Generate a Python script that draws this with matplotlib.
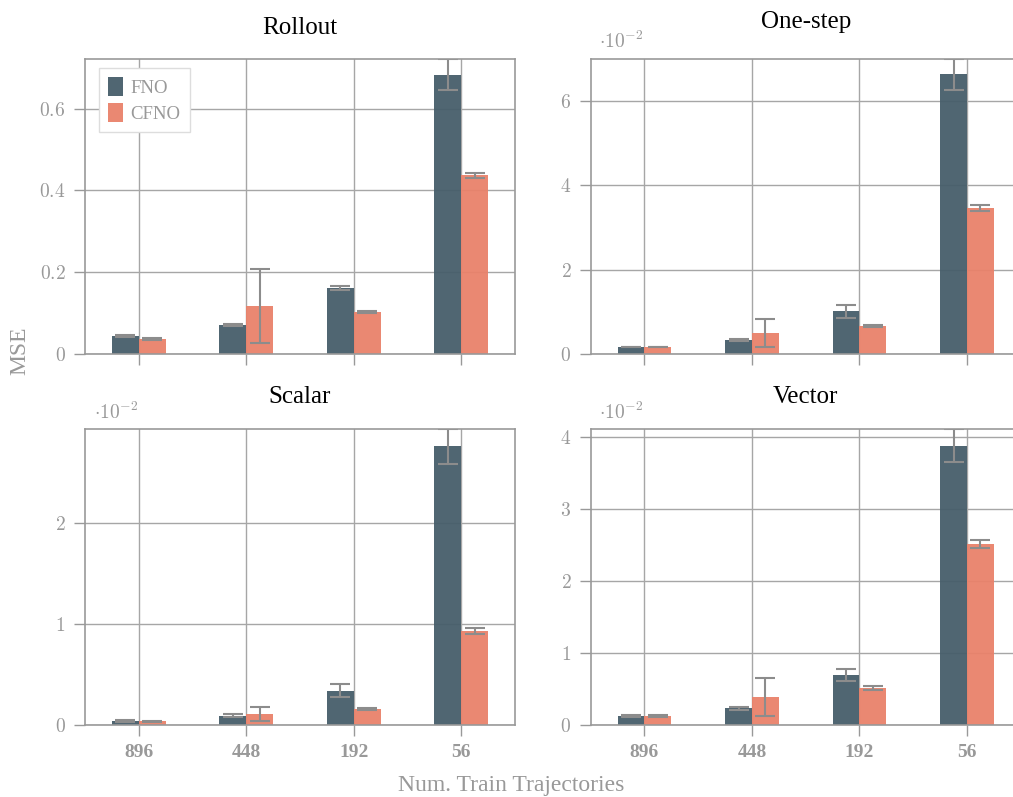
import matplotlib.pyplot as plt
from matplotlib.ticker import MultipleLocator, FuncFormatter
import numpy as np

plt.rcParams['mathtext.fontset'] = 'cm'
plt.rcParams['font.family'] = ['Liberation Serif', 'DejaVu Serif']

# data (MSE)
train_sizes = ['896', '448', '192', '56']
models = ['FNO', 'CFNO']
titles = ['Rollout', 'One-step', 'Scalar', 'Vector']

rollout_fno = [0.044, 0.071, 0.161, 0.683]
rollout_fno_err = [0.002, 0.003, 0.005, 0.038]
rollout_cfno = [0.037, 0.117, 0.102, 0.437]
rollout_cfno_err = [0.002, 0.091, 0.003, 0.006]

onestep_fno = [0.16e-2, 0.325e-2, 1.01e-2, 6.64e-2]
onestep_fno_err = [0.01e-2, 0.03e-2, 0.15e-2, 0.37e-2]
onestep_cfno = [0.16e-2, 0.49e-2, 0.66e-2, 3.46e-2]
onestep_cfno_err = [0.01e-2, 0.33e-2, 0.03e-2, 0.08e-2]

scalar_fno = [0.037e-2, 0.087e-2, 0.335e-2, 2.76e-2]
scalar_fno_err = [0.01e-2, 0.015e-2, 0.065e-2, 0.17e-2]
scalar_cfno = [0.033e-2, 0.106e-2, 0.156e-2, 0.93e-2]
scalar_cfno_err = [0.005e-2, 0.065e-2, 0.01e-2, 0.033e-2]

vector_fno = [0.12e-2, 0.228e-2, 0.69e-2, 3.88e-2]
vector_fno_err = [0.01e-2, 0.02e-2, 0.085e-2, 0.23e-2]
vector_cfno = [0.12e-2, 0.385e-2, 0.51e-2, 2.515e-2]
vector_cfno_err = [0.01e-2, 0.27e-2, 0.03e-2, 0.055e-2]

panels = [
    (rollout_fno, rollout_fno_err, rollout_cfno, rollout_cfno_err, 1, 0.2),
    (onestep_fno, onestep_fno_err, onestep_cfno, onestep_cfno_err, 1e-2, 2e-2),
    (scalar_fno, scalar_fno_err, scalar_cfno, scalar_cfno_err, 1e-2, 1e-2),
    (vector_fno, vector_fno_err, vector_cfno, vector_cfno_err, 1e-2, 1e-2),
]

# style
fno_color = '#465e6a'
cfno_color = '#e9826a'
gray = '#999999'
grid_gray = '#a6a6a6'
err_gray = '#8c8c8c'

W, H = 1013, 797
fig = plt.figure(figsize=(W / 100, H / 100), dpi=100)

# axes boxes in pixels: left, top, right, bottom
boxes = [
    (85, 59, 515, 354),
    (590.7, 58.7, 1020.7, 353.7),
    (85, 429.3, 515, 724.7),
    (590.7, 429.3, 1020.7, 724.7),
]
title_pads = [18, 22, 19, 19]

x = np.arange(len(train_sizes))
width = 0.25

for i, (box, title, panel) in enumerate(zip(boxes, titles, panels)):
    l, t, r, b = box
    ax = fig.add_axes([l / W, 1 - b / H, (r - l) / W, (b - t) / H])
    fno, fno_err, cfno, cfno_err, scale, step = panel

    ax.set_axisbelow(True)
    ax.grid(True, color=grid_gray, linewidth=1.0)

    ekw = dict(ecolor=err_gray, elinewidth=1.5, capsize=7, capthick=1.5)
    ax.bar(x - width / 2, fno, width, yerr=fno_err, color=fno_color,
           alpha=0.95, label=models[0], error_kw=ekw)
    ax.bar(x + width / 2, cfno, width, yerr=cfno_err, color=cfno_color,
           alpha=0.95, label=models[1], error_kw=ekw)

    top = max(np.max(np.array(fno) + np.array(fno_err)),
              np.max(np.array(cfno) + np.array(cfno_err)))
    ax.set_ylim(0, top)
    ax.set_xlim(-0.5, len(train_sizes) - 0.5)

    ax.set_xticks(x)
    if i >= 2:
        ax.set_xticklabels(train_sizes, fontsize=14, fontweight='bold', color=gray)
    else:
        ax.set_xticklabels([])

    ax.yaxis.set_major_locator(MultipleLocator(step))
    ax.yaxis.set_major_formatter(FuncFormatter(lambda v, p, s=scale: '$%g$' % round(v / s, 6)))
    ax.tick_params(axis='both', direction='out', length=8, width=1.0,
                   color=gray, labelcolor=gray, pad=6, labelsize=14)

    for sp in ax.spines.values():
        sp.set_color(gray)
        sp.set_linewidth(1.2)

    ax.set_title(title, fontsize=18, color='black', pad=title_pads[i])

    if scale != 1:
        ax.text(0.02, 1.022, r'$\cdot 10^{-2}$', transform=ax.transAxes,
                fontsize=14, color=gray, ha='left', va='bottom')

    if i == 0:
        leg = ax.legend(loc='upper left', bbox_to_anchor=(0.032, 0.97),
                        borderaxespad=0, fontsize=13.5, handlelength=0.8,
                        handleheight=1.2, handletextpad=0.4, labelspacing=0.3,
                        fancybox=False, framealpha=1, edgecolor='#dddddd',
                        borderpad=0.5)
        for txt in leg.get_texts():
            txt.set_color(gray)

fig.text(511 / W, 1 - 785 / H, 'Num. Train Trajectories', fontsize=17,
         color=gray, ha='center', va='center')
fig.text(20 / W, 1 - 351 / H, 'MSE', fontsize=17, color=gray,
         rotation=90, ha='center', va='center')

plt.savefig('out.png', dpi=100)
